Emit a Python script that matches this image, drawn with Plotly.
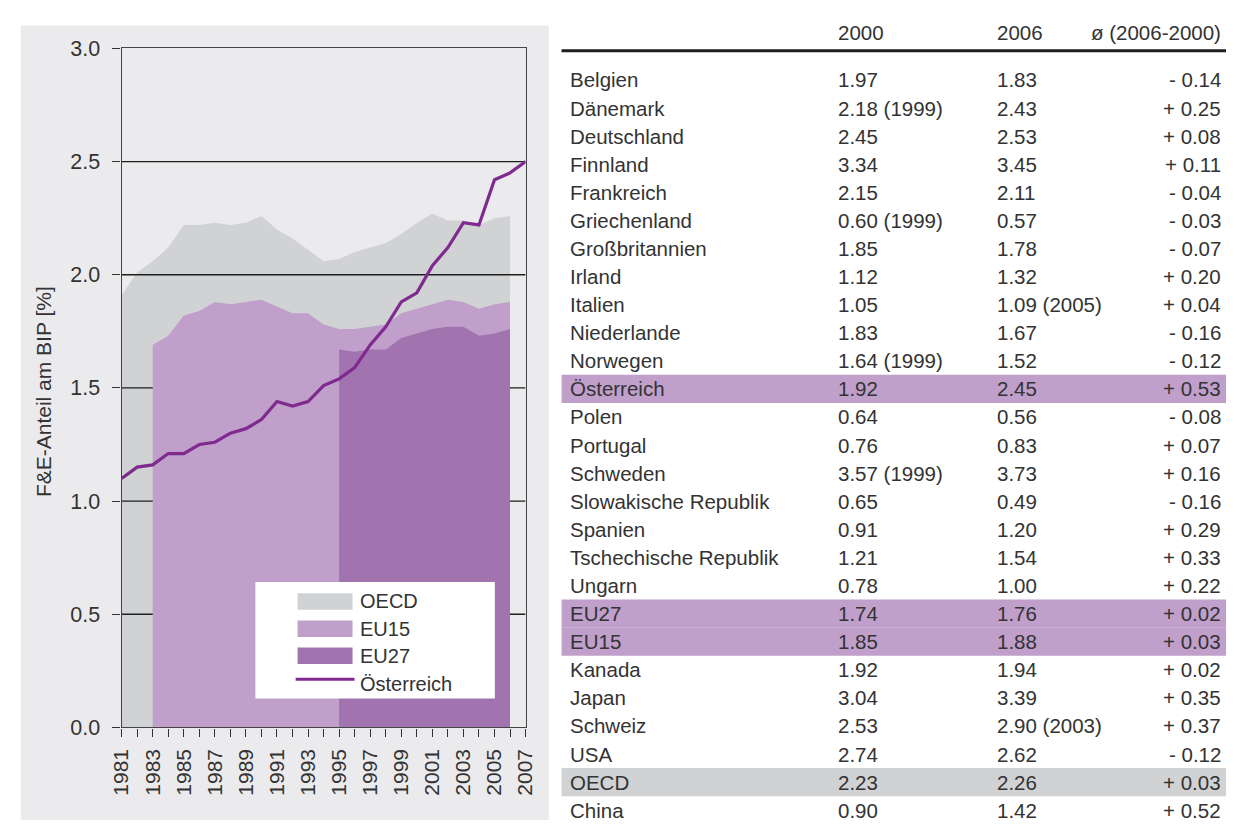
import plotly.graph_objects as go

# ---------------- data ----------------
oecd_years = list(range(1981, 2007))
oecd = [1.91, 2.01, 2.06, 2.12, 2.22, 2.22, 2.23, 2.22, 2.23, 2.26,
        2.20, 2.16, 2.11, 2.06, 2.07, 2.10, 2.12, 2.14, 2.18, 2.23,
        2.27, 2.24, 2.24, 2.22, 2.25, 2.26]
eu15_years = list(range(1983, 2007))
eu15 = [1.69, 1.73, 1.82, 1.84, 1.88, 1.87, 1.88, 1.89, 1.86, 1.83,
        1.83, 1.78, 1.76, 1.76, 1.77, 1.78, 1.83, 1.85, 1.87, 1.89,
        1.88, 1.85, 1.87, 1.88]
eu27_years = list(range(1995, 2007))
eu27 = [1.67, 1.66, 1.67, 1.67, 1.72, 1.74, 1.76, 1.77, 1.77, 1.73, 1.74, 1.76]
at_years = list(range(1981, 2008))
austria = [1.10, 1.15, 1.16, 1.21, 1.21, 1.25, 1.26, 1.30, 1.32, 1.36,
           1.44, 1.42, 1.44, 1.51, 1.54, 1.59, 1.69, 1.77, 1.88, 1.92,
           2.04, 2.12, 2.23, 2.22, 2.42, 2.45, 2.50]

y_ticks = [0.0, 0.5, 1.0, 1.5, 2.0, 2.5, 3.0]
x_ticks = list(range(1981, 2008))
x_ticklabels = [str(y) if (y - 1981) % 2 == 0 else "" for y in x_ticks]

legend_names = ["OECD", "EU15", "EU27", "Österreich"]

tbl_header = ["", "2000", "2006", "ø (2006-2000)"]
tbl_country = ["Belgien", "Dänemark", "Deutschland", "Finnland", "Frankreich",
               "Griechenland", "Großbritannien", "Irland", "Italien", "Niederlande",
               "Norwegen", "Österreich", "Polen", "Portugal", "Schweden",
               "Slowakische Republik", "Spanien", "Tschechische Republik", "Ungarn",
               "EU27", "EU15", "Kanada", "Japan", "Schweiz", "USA", "OECD", "China"]
tbl_2000 = ["1.97", "2.18 (1999)", "2.45", "3.34", "2.15", "0.60 (1999)", "1.85",
            "1.12", "1.05", "1.83", "1.64 (1999)", "1.92", "0.64", "0.76",
            "3.57 (1999)", "0.65", "0.91", "1.21", "0.78", "1.74", "1.85", "1.92",
            "3.04", "2.53", "2.74", "2.23", "0.90"]
tbl_2006 = ["1.83", "2.43", "2.53", "3.45", "2.11", "0.57", "1.78", "1.32",
            "1.09 (2005)", "1.67", "1.52", "2.45", "0.56", "0.83", "3.73", "0.49",
            "1.20", "1.54", "1.00", "1.76", "1.88", "1.94", "3.39", "2.90 (2003)",
            "2.62", "2.26", "1.42"]
tbl_diff = ["- 0.14", "+ 0.25", "+ 0.08", "+ 0.11", "- 0.04", "- 0.03", "- 0.07",
            "+ 0.20", "+ 0.04", "- 0.16", "- 0.12", "+ 0.53", "- 0.08", "+ 0.07",
            "+ 0.16", "- 0.16", "+ 0.29", "+ 0.33", "+ 0.22", "+ 0.02", "+ 0.03",
            "+ 0.02", "+ 0.35", "+ 0.37", "- 0.12", "+ 0.03", "+ 0.52"]
purple_rows = ["Österreich", "EU27", "EU15"]
grey_rows = ["OECD"]

# ---------------- style ----------------
W, H = 1237, 833
FONT = "Liberation Sans, Arial, sans-serif"
TXT = "#333333"
PANEL = "#ebebed"
C_OECD = "#d1d2d4"
C_EU15 = "#c09fcb"
C_EU27 = "#a173af"
C_AT = "#7f2a8f"


def px(x):
    return x / W


def py(y):
    return 1 - y / H


fig = go.Figure()

fig.add_trace(go.Scatter(x=oecd_years, y=oecd, fill="tozeroy", mode="lines",
                         line=dict(width=0, color=C_OECD), fillcolor=C_OECD,
                         name=legend_names[0], showlegend=False))
# horizontal gridlines (above OECD, below the EU areas, as in the reference)
gx, gy = [], []
for t in y_ticks[1:-1]:
    gx += [x_ticks[0], x_ticks[-1], None]
    gy += [t, t, None]
fig.add_trace(go.Scatter(x=gx, y=gy, mode="lines", line=dict(color="#1e1e1e", width=1.3),
                         hoverinfo="skip", showlegend=False))
fig.add_trace(go.Scatter(x=eu15_years, y=eu15, fill="tozeroy", mode="lines",
                         line=dict(width=0, color=C_EU15), fillcolor=C_EU15,
                         name=legend_names[1], showlegend=False))
fig.add_trace(go.Scatter(x=eu27_years, y=eu27, fill="tozeroy", mode="lines",
                         line=dict(width=0, color=C_EU27), fillcolor=C_EU27,
                         name=legend_names[2], showlegend=False))
fig.add_trace(go.Scatter(x=at_years, y=austria, mode="lines",
                         line=dict(width=3.2, color=C_AT),
                         name=legend_names[3], showlegend=False))

shapes = []
annotations = []

# grey panel behind the chart
shapes.append(dict(type="rect", xref="paper", yref="paper", x0=px(9), x1=px(547),
                   y0=py(833), y1=py(15), fillcolor=PANEL, line=dict(width=0), layer="below"))

# legend box
shapes.append(dict(type="rect", xref="paper", yref="paper", x0=px(248), x1=px(492),
                   y0=py(708), y1=py(588), fillcolor="white", line=dict(width=0), layer="above"))
sw_cols = [C_OECD, C_EU15, C_EU27]
row_c = [608, 636, 664, 693]
for i, c in enumerate(sw_cols):
    shapes.append(dict(type="rect", xref="paper", yref="paper", x0=px(291), x1=px(347),
                       y0=py(row_c[i] + 8.5), y1=py(row_c[i] - 8.5), fillcolor=c,
                       line=dict(width=0), layer="above"))
shapes.append(dict(type="line", xref="paper", yref="paper", x0=px(289), x1=px(349),
                   y0=py(688), y1=py(688), line=dict(color=C_AT, width=3), layer="above"))
for i, name in enumerate(legend_names):
    annotations.append(dict(text=name, xref="paper", yref="paper", x=px(353), y=py(row_c[i]),
                            xanchor="left", yanchor="middle", showarrow=False,
                            font=dict(family=FONT, size=20, color=TXT)))

# y-axis title
annotations.append(dict(text="F&E-Anteil am BIP [%]", xref="paper", yref="paper",
                        x=px(32), y=py(392), textangle=-90, showarrow=False,
                        xanchor="center", yanchor="middle",
                        font=dict(family=FONT, size=21, color=TXT)))

# ---------------- table ----------------
T_LEFT, T_RIGHT = 560, W
col_x = [567, 840, 1002, 1234]
row0, rh = 71, 28.92
header_y = 22
TFS = 20.5
for j, h in enumerate(tbl_header):
    if h == "":
        continue
    annotations.append(dict(text=h, xref="paper", yref="paper", x=px(col_x[j]), y=py(header_y),
                            xanchor="right" if j == 3 else "left", yanchor="middle",
                            showarrow=False, font=dict(family=FONT, size=TFS, color=TXT)))
shapes.append(dict(type="line", xref="paper", yref="paper", x0=px(T_LEFT), x1=px(T_RIGHT),
                   y0=py(41), y1=py(41), line=dict(color="#1e1e1e", width=3)))
for i, name in enumerate(tbl_country):
    yc = row0 + i * rh
    if name in purple_rows or name in grey_rows:
        shapes.append(dict(type="rect", xref="paper", yref="paper", x0=px(T_LEFT), x1=px(T_RIGHT),
                           y0=py(yc + rh / 2), y1=py(yc - rh / 2),
                           fillcolor=C_EU15 if name in purple_rows else C_OECD,
                           line=dict(width=0), layer="below"))
    vals = [name, tbl_2000[i], tbl_2006[i], tbl_diff[i]]
    for j, v in enumerate(vals):
        annotations.append(dict(text=v, xref="paper", yref="paper", x=px(col_x[j]), y=py(yc),
                                xanchor="right" if j == 3 else "left", yanchor="middle",
                                showarrow=False, font=dict(family=FONT, size=TFS, color=TXT)))

fig.update_layout(
    width=W, height=H,
    margin=dict(l=0, r=0, t=0, b=0),
    paper_bgcolor="white",
    plot_bgcolor=PANEL,
    shapes=shapes,
    annotations=annotations,
    showlegend=False,
    xaxis=dict(domain=[px(111.7), px(523.3)], range=[1981, 2007],
               tickmode="array", tickvals=x_ticks, ticktext=x_ticklabels,
               tickangle=-90, ticks="outside", ticklen=8, tickcolor="#333",
               ticklabelstandoff=4,
               showline=True, linecolor="#444", linewidth=1.3, mirror=True,
               showgrid=False, zeroline=False,
               tickfont=dict(family=FONT, size=21, color=TXT)),
    yaxis=dict(domain=[py(737.7), py(38.5)], range=[0, 3],
               tickmode="array", tickvals=y_ticks, ticktext=[f"{v:.1f}" for v in y_ticks],
               ticks="outside", ticklen=8, tickcolor="#333",
               ticklabelstandoff=8,
               showline=True, linecolor="#444", linewidth=1.3, mirror=True,
               showgrid=False, zeroline=False,
               tickfont=dict(family=FONT, size=21.5, color=TXT)),
)

fig.write_html(
    "out.html",
    config={"displayModeBar": False},
    post_script="document.body.style.margin='0';document.body.style.overflow='hidden';"
                "document.documentElement.style.overflow='hidden';",
)
